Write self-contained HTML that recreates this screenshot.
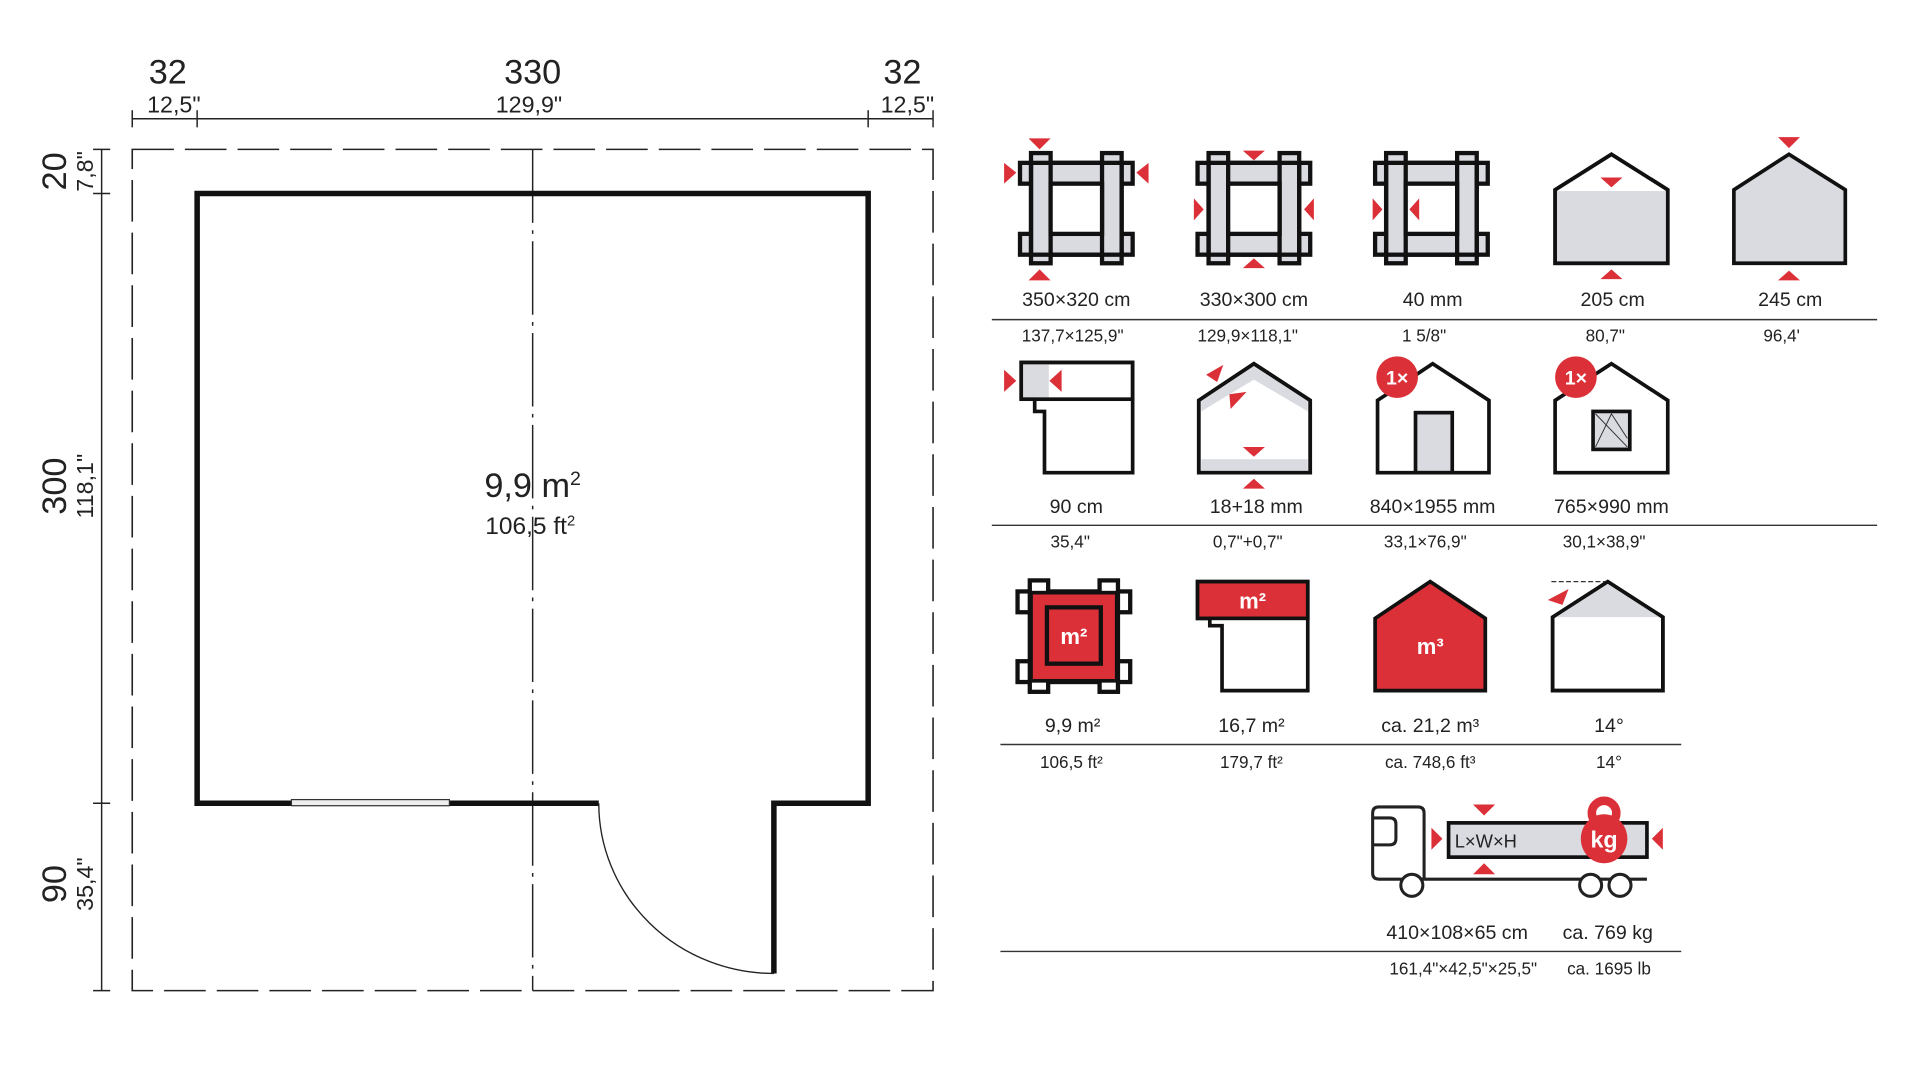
<!DOCTYPE html>
<html><head><meta charset="utf-8"><style>
html,body{margin:0;padding:0;background:#fff;width:1920px;height:1080px;overflow:hidden}
svg{display:block}
text{font-family:"Liberation Sans",sans-serif;fill:#222}
</style></head><body>
<svg width="1920" height="1080" viewBox="0 0 1568 882" preserveAspectRatio="none" xmlns="http://www.w3.org/2000/svg">
<defs>
<g id="frame">
 <rect x="0" y="8" width="92" height="17" fill="#d9dbe1" stroke="#111" stroke-width="3.5"/>
 <rect x="0" y="66" width="92" height="17" fill="#d9dbe1" stroke="#111" stroke-width="3.5"/>
 <rect x="9" y="0" width="16" height="90" fill="#d9dbe1" stroke="#111" stroke-width="3.5"/>
 <rect x="67" y="0" width="16" height="90" fill="#d9dbe1" stroke="#111" stroke-width="3.5"/>
 <rect x="9" y="8" width="74" height="75" fill="none" stroke="#111" stroke-width="3.5"/>
 <rect x="25" y="25" width="42" height="41" fill="#fff" stroke="#111" stroke-width="3.5"/>
</g>
</defs>
<g fill="none" stroke="#222">
 <line x1="108" y1="97" x2="762" y2="97" stroke-width="1.2"/>
 <line x1="108" y1="90" x2="108" y2="104" stroke-width="1.2"/>
 <line x1="161" y1="90" x2="161" y2="104" stroke-width="1.2"/>
 <line x1="709" y1="90" x2="709" y2="104" stroke-width="1.2"/>
 <line x1="762" y1="90" x2="762" y2="104" stroke-width="1.2"/>
 <line x1="83" y1="122" x2="83" y2="809" stroke-width="1.2"/>
 <line x1="76" y1="122" x2="90" y2="122" stroke-width="1.2"/>
 <line x1="76" y1="158" x2="90" y2="158" stroke-width="1.2"/>
 <line x1="76" y1="656" x2="90" y2="656" stroke-width="1.2"/>
 <line x1="76" y1="809" x2="90" y2="809" stroke-width="1.2"/>
 <rect x="108" y="122" width="654" height="687" stroke-width="1.3" stroke-dasharray="34,9"/>
 <line x1="435" y1="122" x2="435" y2="809" stroke-width="1.2" stroke-dasharray="60,6,3,6"/>
 <path d="M489 656 H161 V158 H709 V656 H632 V795" stroke="#111" stroke-width="4.5"/>
 <path d="M489 656 A143 139 0 0 0 632 795" stroke-width="1.1"/>
</g>
<rect x="238" y="653" width="129" height="5" fill="#eee" stroke="#333" stroke-width="1"/>
<text x="137" y="68" font-size="28" text-anchor="middle">32</text>
<text x="142" y="92" font-size="19" text-anchor="middle">12,5"</text>
<text x="435" y="68" font-size="28" text-anchor="middle">330</text>
<text x="432" y="92" font-size="19" text-anchor="middle">129,9"</text>
<text x="737" y="68" font-size="28" text-anchor="middle">32</text>
<text x="741" y="92" font-size="19" text-anchor="middle">12,5"</text>
<text transform="translate(54,140) rotate(-90)" font-size="28" text-anchor="middle">20</text>
<text transform="translate(76,140) rotate(-90)" font-size="19" text-anchor="middle">7,8"</text>
<text transform="translate(54,397) rotate(-90)" font-size="28" text-anchor="middle">300</text>
<text transform="translate(76,397) rotate(-90)" font-size="19" text-anchor="middle">118,1"</text>
<text transform="translate(54,722) rotate(-90)" font-size="28" text-anchor="middle">90</text>
<text transform="translate(76,722) rotate(-90)" font-size="19" text-anchor="middle">35,4"</text>
<text x="435" y="406" font-size="28" text-anchor="middle">9,9 m<tspan font-size="16" dy="-10">2</tspan></text>
<text x="433" y="436" font-size="20" text-anchor="middle">106,5 ft<tspan font-size="12" dy="-7">2</tspan></text>

<use href="#frame" x="833" y="125"/>
<use href="#frame" x="978" y="125"/>
<use href="#frame" x="1123" y="125"/>
<g fill="#dc3038">
 <polygon points="840,113 858,113 849,122"/><polygon points="840,229 858,229 849,220"/>
 <polygon points="820,133 820,150 830,141"/><polygon points="938,133 938,150 928,141"/>
 <polygon points="1015,123 1033,123 1024,131"/><polygon points="1015,219 1033,219 1024,211"/>
 <polygon points="975,162 975,180 983,171"/><polygon points="1073,162 1073,180 1065,171"/>
 <polygon points="1121,162 1121,180 1129,171"/><polygon points="1159,162 1159,180 1151,171"/>
</g>
<polygon points="1270,155 1316,126 1362,155 1362,215 1270,215" fill="#fff" stroke="#111" stroke-width="3"/>
<rect x="1271.5" y="156" width="89" height="57.5" fill="#d9dbe1"/>
<polygon points="1270,155 1316,126 1362,155 1362,215 1270,215" fill="none" stroke="#111" stroke-width="3"/>
<polygon points="1307,145 1325,145 1316,153" fill="#dc3038"/>
<polygon points="1307,228 1325,228 1316,220" fill="#dc3038"/>
<polygon points="1416,155 1461,126 1507,155 1507,215 1416,215" fill="#d9dbe1" stroke="#111" stroke-width="3"/>
<polygon points="1452,112 1470,112 1461,121" fill="#dc3038"/>
<polygon points="1452,229 1470,229 1461,221" fill="#dc3038"/>
<g font-size="16" text-anchor="middle">
 <text x="879" y="250">350×320 cm</text><text x="1024" y="250">330×300 cm</text><text x="1170" y="250">40 mm</text><text x="1317" y="250">205 cm</text><text x="1462" y="250">245 cm</text>
</g>
<line x1="810" y1="261" x2="1533" y2="261" stroke="#333" stroke-width="1.2"/>
<g font-size="14" text-anchor="middle">
 <text x="876" y="279">137,7×125,9"</text><text x="1019" y="279">129,9×118,1"</text><text x="1163" y="279">1 5/8"</text><text x="1311" y="279">80,7"</text><text x="1455" y="279">96,4'</text>
</g>

<path d="M834 296 H925 V386 H853 V336 H845 V326 H834 Z" fill="#fff" stroke="#111" stroke-width="3"/>
<rect x="835.5" y="297.5" width="21" height="27" fill="#d9dbe1"/>
<rect x="834" y="296" width="91" height="30" fill="none" stroke="#111" stroke-width="3"/>
<polygon points="820,302 820,320 830,311" fill="#dc3038"/><polygon points="867,302 867,320 857,311" fill="#dc3038"/>
<polygon points="979,327 1024,297 1070,327 1070,386 979,386" fill="#fff" stroke="#111" stroke-width="3"/>
<polygon points="981,327 1024,299 1068,327 1068,336 1024,310 981,336" fill="#d9dbe1"/>
<rect x="981" y="375" width="87" height="10" fill="#d9dbe1"/>
<polygon points="979,327 1024,297 1070,327 1070,386 979,386" fill="none" stroke="#111" stroke-width="3"/>
<polygon points="985,306 999,298 994,312" fill="#dc3038"/><polygon points="1004,322 1018,320 1005,334" fill="#dc3038"/>
<polygon points="1015,365 1033,365 1024,373" fill="#dc3038"/><polygon points="1015,399 1033,399 1024,391" fill="#dc3038"/>
<polygon points="1125,327 1170,297 1216,327 1216,386 1125,386" fill="#fff" stroke="#111" stroke-width="3"/>
<rect x="1156" y="337" width="30" height="49" fill="#d9dbe1" stroke="#111" stroke-width="3"/>
<circle cx="1141" cy="308" r="17" fill="#dc3038"/><text x="1141" y="314" font-size="16" font-weight="bold" text-anchor="middle" style="fill:#fff">1×</text>
<polygon points="1270,327 1316,297 1362,327 1362,386 1270,386" fill="#fff" stroke="#111" stroke-width="3"/>
<rect x="1301" y="336" width="30" height="31" fill="#d9dbe1" stroke="#111" stroke-width="3"/>
<path d="M1303 338 L1329 365 M1303 365 L1316 338 L1329 358" stroke="#333" stroke-width="0.8" fill="none"/>
<circle cx="1287" cy="308" r="17" fill="#dc3038"/><text x="1287" y="314" font-size="16" font-weight="bold" text-anchor="middle" style="fill:#fff">1×</text>
<g font-size="16" text-anchor="middle">
 <text x="879" y="419">90 cm</text><text x="1026" y="419">18+18 mm</text><text x="1170" y="419">840×1955 mm</text><text x="1316" y="419">765×990 mm</text>
</g>
<line x1="810" y1="429" x2="1533" y2="429" stroke="#333" stroke-width="1.2"/>
<g font-size="14" text-anchor="middle">
 <text x="874" y="447">35,4"</text><text x="1019" y="447">0,7"+0,7"</text><text x="1164" y="447">33,1×76,9"</text><text x="1310" y="447">30,1×38,9"</text>
</g>

<g transform="translate(831,474)">
 <rect x="0" y="9" width="92" height="17" fill="#fff" stroke="#111" stroke-width="3.5"/>
 <rect x="0" y="66" width="92" height="17" fill="#fff" stroke="#111" stroke-width="3.5"/>
 <rect x="10" y="0" width="15" height="91" fill="#fff" stroke="#111" stroke-width="3.5"/>
 <rect x="67" y="0" width="15" height="91" fill="#fff" stroke="#111" stroke-width="3.5"/>
 <rect x="11" y="10" width="70" height="72" fill="#dc3038" stroke="#111" stroke-width="3"/>
 <rect x="24" y="22" width="44" height="46" fill="#dc3038" stroke="#111" stroke-width="3.5"/>
 <text x="46" y="52" font-size="18" font-weight="bold" text-anchor="middle" style="fill:#fff">m²</text>
</g>
<path d="M978 475 H1068 V564 H998 V511 H988 V505 H978 Z" fill="#fff" stroke="#111" stroke-width="3"/>
<rect x="978" y="475" width="90" height="30" fill="#dc3038" stroke="#111" stroke-width="3"/>
<text x="1023" y="497" font-size="18" font-weight="bold" text-anchor="middle" style="fill:#fff">m²</text>
<polygon points="1123,505 1168,475 1213,505 1213,564 1123,564" fill="#dc3038" stroke="#111" stroke-width="3"/>
<text x="1168" y="534" font-size="18" font-weight="bold" text-anchor="middle" style="fill:#fff">m³</text>
<polygon points="1268,504 1313,475 1358,504 1358,564 1268,564" fill="#fff" stroke="#111" stroke-width="3"/>
<polygon points="1270,504 1313,477 1356,504" fill="#d9dbe1"/>
<polygon points="1268,504 1313,475 1358,504 1358,564 1268,564" fill="none" stroke="#111" stroke-width="3"/>
<line x1="1267" y1="475" x2="1311" y2="475" stroke="#333" stroke-width="1" stroke-dasharray="4,2"/>
<polygon points="1264,490 1281,481 1276,494" fill="#dc3038"/>
<g font-size="16" text-anchor="middle">
 <text x="876" y="598">9,9 m²</text><text x="1022" y="598">16,7 m²</text><text x="1168" y="598">ca. 21,2 m³</text><text x="1314" y="598">14°</text>
</g>
<line x1="817" y1="608" x2="1373" y2="608" stroke="#333" stroke-width="1.2"/>
<g font-size="14" text-anchor="middle">
 <text x="875" y="627">106,5 ft²</text><text x="1022" y="627">179,7 ft²</text><text x="1168" y="627">ca. 748,6 ft³</text><text x="1314" y="627">14°</text>
</g>

<path d="M1163 718 V664 Q1163 659 1158 659 H1126 Q1121 659 1121 664 V713 Q1121 718 1126 718 H1345" fill="none" stroke="#222" stroke-width="2.5"/>
<path d="M1121 668 H1135 Q1140 668 1140 673 V685 Q1140 690 1135 690 H1121" fill="none" stroke="#222" stroke-width="2.5"/>
<circle cx="1153" cy="723" r="9" fill="#fff" stroke="#222" stroke-width="2.5"/>
<circle cx="1299" cy="723" r="9" fill="#fff" stroke="#222" stroke-width="2.5"/>
<circle cx="1323" cy="723" r="9" fill="#fff" stroke="#222" stroke-width="2.5"/>
<rect x="1183" y="672" width="162" height="28" fill="#d9dbe1" stroke="#111" stroke-width="3"/>
<text x="1188" y="692" font-size="15">L×W×H</text>
<circle cx="1310" cy="664" r="10" fill="none" stroke="#dc3038" stroke-width="7"/>
<ellipse cx="1310" cy="685" rx="19" ry="20" fill="#dc3038"/>
<text x="1310" y="692" font-size="19" font-weight="bold" text-anchor="middle" style="fill:#fff">kg</text>
<polygon points="1203,657 1221,657 1212,666" fill="#dc3038"/><polygon points="1203,714 1221,714 1212,705" fill="#dc3038"/>
<polygon points="1169,676 1169,694 1178,685" fill="#dc3038"/><polygon points="1358,676 1358,694 1349,685" fill="#dc3038"/>
<text x="1190" y="767" font-size="16" text-anchor="middle">410×108×65 cm</text>
<text x="1313" y="767" font-size="16" text-anchor="middle">ca. 769 kg</text>
<line x1="817" y1="777" x2="1373" y2="777" stroke="#333" stroke-width="1.2"/>
<text x="1195" y="796" font-size="14" text-anchor="middle">161,4"×42,5"×25,5"</text>
<text x="1314" y="796" font-size="14" text-anchor="middle">ca. 1695 lb</text>
</svg>
</body></html>
